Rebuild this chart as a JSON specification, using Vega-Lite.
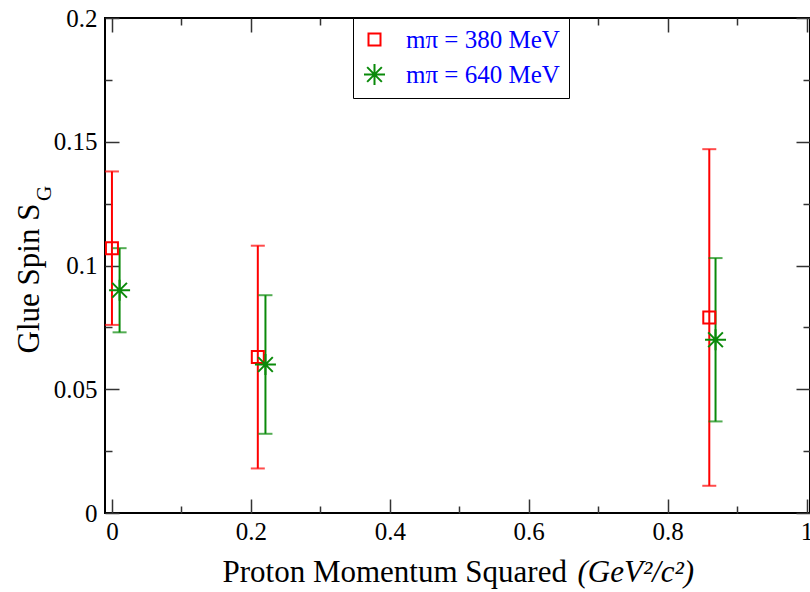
{
  "$schema": "https://vega.github.io/schema/vega-lite/v6.json",
  "width": 705,
  "height": 495,
  "autosize": {"type": "none"},
  "padding": {"left": 105, "top": 18, "right": 0, "bottom": 79},
  "background": "white",
  "config": {
    "view": {"stroke": "black", "strokeWidth": 2},
    "axis": {"grid": false, "domain": false, "tickColor": "#333333", "tickWidth": 1.5,
             "labelFont": "Liberation Serif", "labelFontSize": 25, "labelColor": "black",
             "titleFont": "Liberation Serif", "titleFontWeight": "normal", "titleColor": "black",
             "labelFlush": false, "labelOverlap": false},
    "legend": {"orient": "none", "legendX": 248, "legendY": 0, "strokeColor": "black", "fillColor": "white",
               "padding": 9, "labelFont": "Liberation Serif", "labelFontSize": 25, "labelColor": "#0000ff",
               "symbolStrokeWidth": 2, "rowPadding": 7, "labelOffset": 19, "title": null}
  },
  "data": {"values": [
    {"series": "mπ = 380 MeV", "x": 0.0, "y": 0.107, "lo": 0.076, "hi": 0.138},
    {"series": "mπ = 380 MeV", "x": 0.21, "y": 0.063, "lo": 0.018, "hi": 0.108},
    {"series": "mπ = 380 MeV", "x": 0.86, "y": 0.079, "lo": 0.011, "hi": 0.147},
    {"series": "mπ = 640 MeV", "x": 0.011, "y": 0.09, "lo": 0.073, "hi": 0.107},
    {"series": "mπ = 640 MeV", "x": 0.221, "y": 0.06, "lo": 0.032, "hi": 0.088},
    {"series": "mπ = 640 MeV", "x": 0.869, "y": 0.07, "lo": 0.037, "hi": 0.103}
  ]},
  "resolve": {"axis": {"x": "independent", "y": "independent"}},
  "layer": [
    {
      "mark": {"type": "rule", "strokeWidth": 2},
      "encoding": {
        "x": {"field": "x", "type": "quantitative", "scale": {"domain": [-0.01, 1.005], "nice": false, "zero": false},
              "axis": {"orient": "bottom", "values": [0, 0.2, 0.4, 0.6, 0.8, 1], "format": "~g", "tickSize": -14,
                       "labelPadding": 20, "title": "Proton Momentum Squared", "titleFontSize": 31,
                       "titleX": 117, "titleY": 68, "titleAlign": "left", "titleBaseline": "alphabetic", "titleAnchor": "start"}},
        "y": {"field": "lo", "type": "quantitative", "scale": {"domain": [0, 0.2], "nice": false, "zero": false},
              "axis": {"orient": "left", "values": [0, 0.05, 0.1, 0.15, 0.2], "format": "~g", "tickSize": -14,
                       "labelPadding": 22, "title": "Glue Spin S", "titleFontSize": 31, "titleAngle": -90,
                       "titleX": -67, "titleY": 260, "titleAlign": "center", "titleBaseline": "alphabetic"}},
        "y2": {"field": "hi"},
        "color": {"condition": {"test": "datum.series === 'mπ = 380 MeV'", "value": "#ff0000"}, "value": "#0a8a0a"}
      }
    },
    {
      "mark": {"type": "tick", "orient": "horizontal", "size": 14, "thickness": 2},
      "encoding": {
        "x": {"field": "x", "type": "quantitative",
              "axis": {"orient": "bottom", "values": [0.1, 0.3, 0.5, 0.7, 0.9], "tickSize": -7, "labels": false,
                       "title": "(GeV²/c²)", "titleFontSize": 31, "titleFontStyle": "italic",
                       "titleX": 472, "titleY": 68, "titleAlign": "left", "titleBaseline": "alphabetic", "titleAnchor": "start"}},
        "y": {"field": "lo", "type": "quantitative",
              "axis": {"orient": "left", "values": [0.025, 0.075, 0.125, 0.175], "tickSize": -7, "labels": false,
                       "title": "G", "titleFontSize": 21, "titleAngle": -90,
                       "titleX": -55, "titleY": 175, "titleAlign": "center", "titleBaseline": "alphabetic"}},
        "color": {"condition": {"test": "datum.series === 'mπ = 380 MeV'", "value": "#ff0000"}, "value": "#0a8a0a"}
      }
    },
    {
      "mark": {"type": "tick", "orient": "horizontal", "size": 14, "thickness": 2},
      "encoding": {
        "x": {"field": "x", "type": "quantitative",
              "axis": {"orient": "top", "values": [0, 0.2, 0.4, 0.6, 0.8, 1], "tickSize": -14, "labels": false, "title": null}},
        "y": {"field": "hi", "type": "quantitative",
              "axis": {"orient": "right", "values": [0, 0.05, 0.1, 0.15, 0.2], "tickSize": -14, "labels": false, "title": null}},
        "color": {"condition": {"test": "datum.series === 'mπ = 380 MeV'", "value": "#ff0000"}, "value": "#0a8a0a"}
      }
    },
    {
      "mark": {"type": "point", "filled": false, "strokeWidth": 2, "opacity": 1},
      "encoding": {
        "x": {"field": "x", "type": "quantitative",
              "axis": {"orient": "top", "values": [0.1, 0.3, 0.5, 0.7, 0.9], "tickSize": -7, "labels": false, "title": null}},
        "y": {"field": "y", "type": "quantitative",
              "axis": {"orient": "right", "values": [0.025, 0.075, 0.125, 0.175], "tickSize": -7, "labels": false, "title": null}},
        "color": {"field": "series", "type": "nominal", "scale": {"range": ["#ff0000", "#0a8a0a"]},
                  "legend": {"encode": {"legend": {"update": {"strokeWidth": {"value": 2}}}}}},
        "shape": {"field": "series", "type": "nominal",
                  "scale": {"range": ["square", "M-1,0L1,0M0,-1L0,1M-0.7,-0.7L0.7,0.7M-0.7,0.7L0.7,-0.7"]}},
        "size": {"field": "series", "type": "nominal", "scale": {"range": [144, 441]}}
      }
    }
  ]
}
